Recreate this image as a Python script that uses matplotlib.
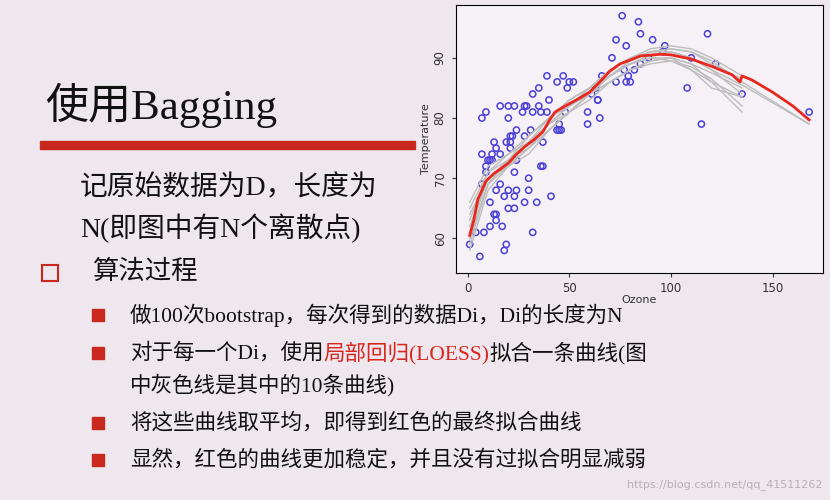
import matplotlib
matplotlib.use("Agg")
import matplotlib.pyplot as plt
from matplotlib.patches import Rectangle

ozone = [1,4,6,8,7,7,7,9,9,9,10,11,11,11,12,12,13,13,14,14,14,14,16,16,16,17,18,18,19,19,20,20,20,20,21,21,21,22,23,23,23,23,24,24,24,27,28,28,29,28,30,30,31,32,32,32,34,35,35,36,36,37,37,39,39,40,41,44,44,45,45,46,47,48,49,50,52,59,59,61,63,64,64,65,66,71,73,73,76,77,78,78,79,80,82,84,85,85,89,91,96,97,108,110,115,118,122,135,168]
temp = [59,61,57,61,69,74,80,81,71,72,73,73,66,62,74,73,76,64,64,68,63,75,74,82,69,62,58,67,59,76,80,65,68,82,75,77,76,77,82,71,67,65,78,68,73,81,82,66,82,77,70,68,78,84,61,81,66,85,82,81,72,72,76,87,81,83,67,86,78,79,78,78,87,81,85,86,86,81,79,84,85,83,83,80,87,90,93,86,97,88,86,92,87,86,88,96,89,94,90,93,91,92,85,90,79,94,89,84,81]

red_x = [1,3,5,9,13,16,20,24,28,33,37,40,43,48,55,60,65,70,75,85,95,100,110,120,130,134,135,140,150,160,168]
red_y = [60.5,63,66.5,69.5,70.8,71.5,72.5,74,75.2,76.5,77.7,79.5,81,82,83.3,84.3,86,87.8,89,90.3,90.6,90.5,89.8,88.6,87.2,86,87,86.3,84.3,82,79.7]

gx = [1,10,20,30,40,50,60,70,80,90,100,110,120,135,168]
gray_curves = [
    [65,71,73,76,79,82,84,87,89,90.5,91,90,88,84],
    [62,70,72,75,78,81,84,87,89.5,91,91.5,91,89.5,86,79],
    [59,69,73,77,80,83,85,87,89,90,89.5,88,86,81],
    [64,70,72,74,78,81,84,86,88,89.5,90,89,87.5,85],
    [60,69,72,75,79,82,85,88,90,91.5,92,91.5,90,87],
    [63,71,74,77,80,82,84,86,88,89,89.5,88.5,86.5,82],
    [58,68,72,76,79,82,85,88,90,91,91,90,88,85.5,79],
    [61,70,73,76,80,83,85,87,89,90,90,89,86,83.5],
    [66,72,74,76,79,81,83,86,88,89.5,90,88,85,83.5],
    [60,69,73,75,78,81,84,87,89.5,91,91.5,91,89,86.5],
]

bg = "#efe7ee"
fig = plt.figure(figsize=(8.3, 5.0), dpi=100, facecolor=bg)

ax = fig.add_axes([0.549, 0.4546, 0.443, 0.535], facecolor="#f6f1f6")
for c in gray_curves:
    ax.plot(gx[:len(c)], c, color="#bdbdbd", lw=1.0)
ax.plot(red_x, red_y, color="#e8281e", lw=2.0)
ax.scatter(ozone, temp, s=20, facecolors="none", edgecolors="#4a3fd6", linewidths=1.1)
ax.set_xlim(-5.9, 175)
ax.set_ylim(54.3, 98.75)
ax.set_xticks([0, 50, 100, 150])
ax.set_yticks([60, 70, 80, 90])
for lbl in ax.get_yticklabels():
    lbl.set_rotation(90); lbl.set_va("center")
ax.tick_params(labelsize=8.5, colors="#333333", length=3)
ax.set_xlabel("Ozone", fontsize=8, labelpad=0, color="#333333")
ax.set_ylabel("Temperature", fontsize=8, labelpad=2, color="#333333")

serif = ["Liberation Serif", "Noto Sans CJK SC"]
fig.text(45/830, 1-105/500, "使用Bagging", fontsize=31, family=serif, va="center", ha="left", color="#111111")
fig.patches.append(Rectangle((40/830, 1-149/500), 375/830, 8/500, transform=fig.transFigure, color="#c8281e"))

fig.text(80/830, 1-188/500, "记原始数据为D，长度为", fontsize=20, family=serif, va="center", color="#111111")
fig.text(80/830, 1-228/500, "N(即图中有N个离散点)", fontsize=20, family=serif, va="center", color="#111111")
fig.patches.append(Rectangle((42/830, 1-281/500), 16/830, 16/500, transform=fig.transFigure, fill=False, ec="#c8281e", lw=1.5))
fig.text(92/830, 1-272/500, "算法过程", fontsize=19, family=serif, va="center", color="#111111")

for yy in [315, 353, 423, 460]:
    fig.patches.append(Rectangle((92/830, 1-(yy+6)/500), 12/830, 12/500, transform=fig.transFigure, color="#c8281e"))

fs = 15.5
fig.text(130/830, 1-315/500, "做100次bootstrap，每次得到的数据Di，Di的长度为N", fontsize=fs, family=serif, va="center", color="#111111")
t1 = fig.text(130/830, 1-353/500, "对于每一个Di，使用", fontsize=fs, family=serif, va="center", color="#111111")
fig.canvas.draw()
r = fig.canvas.get_renderer()
x1 = 130/830 + t1.get_window_extent(r).width/830
t2 = fig.text(x1, 1-353/500, "局部回归(LOESS)", fontsize=fs, family=serif, va="center", color="#d8261c")
x2 = x1 + t2.get_window_extent(r).width/830
fig.text(x2, 1-353/500, "拟合一条曲线(图", fontsize=fs, family=serif, va="center", color="#111111")
fig.text(130/830, 1-385/500, "中灰色线是其中的10条曲线)", fontsize=fs, family=serif, va="center", color="#111111")
fig.text(130/830, 1-423/500, "将这些曲线取平均，即得到红色的最终拟合曲线", fontsize=fs, family=serif, va="center", color="#111111")
fig.text(130/830, 1-460/500, "显然，红色的曲线更加稳定，并且没有过拟合明显减弱", fontsize=fs, family=serif, va="center", color="#111111")
fig.text(822/830, 1-485/500, "https://blog.csdn.net/qq_41511262", fontsize=8, ha="right", va="center", color="#b8b0b8")

fig.savefig("out.png", dpi=100, facecolor=bg)
